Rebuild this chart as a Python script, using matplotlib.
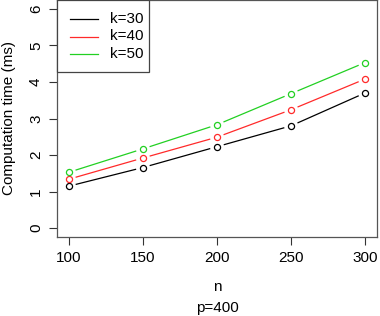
import matplotlib
matplotlib.use("Agg")
import matplotlib.pyplot as plt
from matplotlib.patches import Rectangle
from matplotlib.lines import Line2D
import numpy as np

plt.rcParams['font.family'] = ['Liberation Sans', 'DejaVu Sans']

n_values = [100, 150, 200, 250, 300]
k30 = [1.15, 1.66, 2.23, 2.80, 3.70]
k40 = [1.34, 1.92, 2.49, 3.24, 4.08]
k50 = [1.53, 2.17, 2.83, 3.68, 4.53]
series = [("k=30", k30, "black"), ("k=40", k40, "#ff2a2a"), ("k=50", k50, "#22d022")]
yticks = [0, 1, 2, 3, 4, 5, 6]
xticks = [100, 150, 200, 250, 300]

W, H = 380, 316
fig = plt.figure(figsize=(W / 100, H / 100), dpi=100)
ax = fig.add_axes([57/W, 1 - 237/H, 320/W, 237/H])
ax.set_xlim(92, 308)
ax.set_ylim(-0.24, 6.24)
fig.canvas.draw()

gap = 7.0  # pixels
for label, vals, col in series:
    pts = ax.transData.transform(np.column_stack([n_values, vals]))
    for i in range(len(pts) - 1):
        p0, p1 = pts[i], pts[i + 1]
        d = p1 - p0
        u = d / np.hypot(*d)
        seg = ax.transData.inverted().transform(np.vstack([p0 + u * gap, p1 - u * gap]))
        ax.plot(seg[:, 0], seg[:, 1], color=col, lw=0.9, solid_capstyle='butt')
    ax.plot(n_values, vals, 'o', mfc='none', mec=col, ms=4.4, mew=0.9)

ax.set_xticks(xticks)
ax.set_yticks(yticks)
ax.set_yticklabels([str(t) for t in yticks], rotation=90, va='center')
ax.tick_params(direction='out', length=6, width=0.8, colors='#333333', labelsize=11, labelcolor='black', pad=4)
for s in ax.spines.values():
    s.set_color('#555555')
    s.set_linewidth(0.9)

def fx(px):
    return px / W

def fy(py):
    return 1 - py / H

fig.text(fx(9), fy(118), "Computation time (ms)", rotation=90, ha='center', va='center', fontsize=11)
fig.text(fx(217), fy(287), "n", ha='center', va='center', fontsize=11)
fig.text(fx(217), fy(308), "p=400", ha='center', va='center', fontsize=11)

# legend (R style)
fig.patches.append(Rectangle((fx(57), fy(72)), fx(149) - fx(57), fy(0) - fy(72),
                             transform=fig.transFigure, fill=True, facecolor='white',
                             edgecolor='#444444', lw=0.9, zorder=5))
for j, (label, vals, col) in enumerate(series):
    yy = 19 + j * 17.5
    fig.lines.append(Line2D([fx(70), fx(98)], [fy(yy), fy(yy)], transform=fig.transFigure,
                            color=col, lw=0.9, zorder=6))
    fig.text(fx(110), fy(yy), label, ha='left', va='center', fontsize=11, zorder=6)

fig.savefig("out.png", dpi=100)
